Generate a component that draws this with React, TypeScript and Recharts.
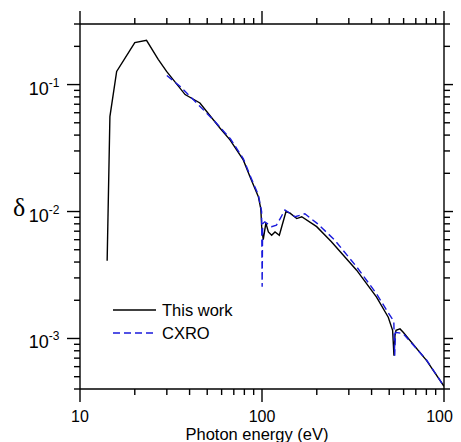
import React from 'react';
import { LineChart, Line, XAxis, YAxis, Legend } from 'recharts';

// Photon energy (eV) and delta for "This work"
const thisWorkE = [14.1, 14.6, 15.9, 20.0, 23.2, 26.9, 29.9, 37.8, 45.6, 58.7, 66.7, 78.9, 85.9, 95.5, 98.5, 99.6, 101.6, 105, 108.4, 113, 117.9, 124.5, 135.5, 142.6, 155.2, 165.3, 199.7, 240, 331, 426, 494, 522, 531, 538, 545, 573, 597, 803, 1000];
const thisWorkD = [0.0041, 0.056, 0.127, 0.214, 0.223, 0.158, 0.127, 0.0834, 0.0716, 0.0455, 0.0367, 0.0255, 0.0188, 0.0131, 0.0105, 0.0076, 0.006, 0.0081, 0.0069, 0.0065, 0.0069, 0.0065, 0.01, 0.0097, 0.0088, 0.0091, 0.0076, 0.0058, 0.00345, 0.00212, 0.00147, 0.00116, 0.00073, 0.00106, 0.00116, 0.00119, 0.00112, 0.00067, 0.00042];

// CXRO reference
const cxroE = [30, 35.4, 54, 67, 79, 86, 95.5, 99.5, 100.2, 100.8, 103.6, 113, 120, 125.9, 133.7, 152, 172, 200, 250, 331, 426, 485, 526, 530, 536, 541, 597, 800, 1000];
const cxroD = [0.118, 0.097, 0.0528, 0.0375, 0.026, 0.0192, 0.0135, 0.01, 0.00255, 0.008, 0.0083, 0.0076, 0.0078, 0.0088, 0.0103, 0.0091, 0.0096, 0.0081, 0.006, 0.00367, 0.00225, 0.00166, 0.00139, 0.00136, 0.00073, 0.00112, 0.00109, 0.00068, 0.00042];

const xTicks = [10, 20, 30, 40, 50, 60, 70, 80, 90, 100, 200, 300, 400, 500, 600, 700, 800, 900, 1000];
const yTicks = [0.0004, 0.0005, 0.0006, 0.0007, 0.0008, 0.0009, 0.001, 0.002, 0.003, 0.004, 0.005, 0.006, 0.007, 0.008, 0.009, 0.01, 0.02, 0.03, 0.04, 0.05, 0.06, 0.07, 0.08, 0.09, 0.1, 0.2, 0.3];

const seriesNames = ['This work', 'CXRO'];
const axisTitle = 'Photon energy (eV)';
const yTitle = 'δ';

const thisWorkData = thisWorkE.map((e, i) => ({ e, d: thisWorkD[i] }));
const cxroData = cxroE.map((e, i) => ({ e, d: cxroD[i] }));

const FONT = '"Liberation Sans", Arial, sans-serif';
const SW = 1.4;
const MAJ = 13;
const MIN = 6;
const XDOM: [number, number] = [10, 1000];
const YDOM: [number, number] = [0.0004, 0.3];
const isMajor = (v: number) => Math.abs(Math.log10(v) - Math.round(Math.log10(v))) < 1e-6;

const BottomTick = (p: any) => {
  const { x, y, payload } = p;
  const v = payload.value;
  const m = isMajor(v);
  return (
    <g>
      <line x1={x} x2={x} y1={y} y2={y + (m ? MAJ : MIN)} stroke="#000" strokeWidth={SW} />
      {m && (
        <text x={x} y={y + 33} textAnchor="middle" fontSize={16} fontFamily={FONT} fill="#000" stroke="none">
          {String(v)}
        </text>
      )}
    </g>
  );
};

const TopTick = (p: any) => {
  const { x, y, payload } = p;
  const m = isMajor(payload.value);
  return <line x1={x} x2={x} y1={y} y2={y - (m ? MAJ : MIN)} stroke="#000" strokeWidth={SW} />;
};

const LeftTick = (p: any) => {
  const { x, y, payload } = p;
  const v = payload.value;
  const m = isMajor(v);
  const ex = Math.round(Math.log10(v));
  return (
    <g>
      <line x1={x} x2={x - (m ? MAJ : MIN)} y1={y} y2={y} stroke="#000" strokeWidth={SW} />
      {m && (
        <text x={x - 20.5} y={y + 10} textAnchor="end" fontSize={18} fontFamily={FONT} fill="#000" stroke="none">
          10
          <tspan dy={-8} fontSize={12}>{String(ex)}</tspan>
        </text>
      )}
    </g>
  );
};

const RightTick = (p: any) => {
  const { x, y, payload } = p;
  const m = isMajor(payload.value);
  return <line x1={x} x2={x + (m ? MAJ : MIN)} y1={y} y2={y} stroke="#000" strokeWidth={SW} />;
};

const LegendContent = () => (
  <svg width={150} height={50} style={{ display: 'block' }}>
    <line x1={5} x2={48} y1={12} y2={12} stroke="#000" strokeWidth={1.5} />
    <text x={54} y={18} fontSize={16.5} fontFamily={FONT} fill="#000">{seriesNames[0]}</text>
    <line x1={5} x2={48} y1={35} y2={35} stroke="#1a1adc" strokeWidth={1.5} strokeDasharray="7 4" />
    <text x={54} y={41} fontSize={16.5} fontFamily={FONT} fill="#000">{seriesNames[1]}</text>
  </svg>
);

const axisCommon = {
  type: 'number' as const,
  scale: 'log' as const,
  allowDataOverflow: true,
  interval: 0 as const,
  tickSize: 0,
  tickMargin: 0,
  tickLine: false,
  axisLine: { stroke: '#000', strokeWidth: SW },
};

export default function App() {
  const W = 453;
  const H = 434;
  return (
    <div style={{ position: 'relative', width: W, height: H }}>
      <style>{'html,body{overflow:hidden;}'}</style>
      <LineChart width={W} height={H} margin={{ top: 6, right: 7, bottom: 13, left: 12 }}>
        <XAxis {...axisCommon} xAxisId="b" dataKey="e" domain={XDOM} ticks={xTicks}
          tick={<BottomTick />} height={40} orientation="bottom" />
        <XAxis {...axisCommon} xAxisId="t" dataKey="e" domain={XDOM} ticks={xTicks}
          tick={<TopTick />} height={10} orientation="top" />
        <YAxis {...axisCommon} yAxisId="l" dataKey="d" domain={YDOM} ticks={yTicks}
          tick={<LeftTick />} width={60} orientation="left" />
        <YAxis {...axisCommon} yAxisId="r" dataKey="d" domain={YDOM} ticks={yTicks}
          tick={<RightTick />} width={10} orientation="right" />
        <Line xAxisId="b" yAxisId="l" data={thisWorkData} dataKey="d" name={seriesNames[0]}
          type="linear" stroke="#000" strokeWidth={1.4} dot={false} isAnimationActive={false} />
        <Line xAxisId="t" yAxisId="r" data={cxroData} dataKey="d" name={seriesNames[1]}
          type="linear" stroke="#1a1adc" strokeWidth={1.4} strokeDasharray="7 4" dot={false}
          isAnimationActive={false} />
        <Legend layout="vertical" align="center" verticalAlign="middle" content={<LegendContent />}
          wrapperStyle={{ position: 'absolute', left: 100, top: 290, width: 150, height: 50 }} />
      </LineChart>
      <svg width={W} height={H} style={{ position: 'absolute', left: 0, top: 0, pointerEvents: 'none' }}>
        <text x={5} y={208} fontSize={26} fontFamily='"Liberation Serif", "Times New Roman", serif' fill="#000">{yTitle}</text>
        <text x={249} y={432} textAnchor="middle" fontSize={16.5} fontFamily={FONT} fill="#000">{axisTitle}</text>
      </svg>
    </div>
  );
}
